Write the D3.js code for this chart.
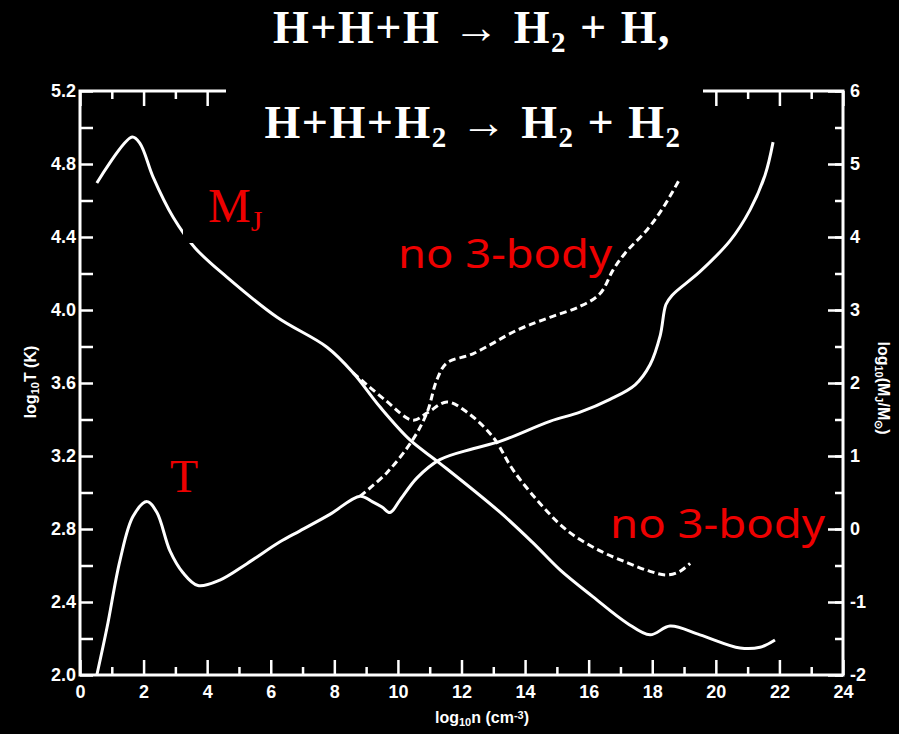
<!DOCTYPE html>
<html>
<head>
<meta charset="utf-8">
<script src="https://cdn.jsdelivr.net/npm/d3@7"></script>
<style>
  html, body { margin: 0; padding: 0; background: #000; }
  svg { display: block; }
</style>
</head>
<body>
<div id="chart"></div>
<script>
// log10 n values and curves
const tSolidN = [0.53, 0.85, 1.26, 1.67, 2.11, 2.42, 2.83, 3.24, 3.71, 4.40, 5.25, 6.29, 6.92, 7.86, 8.81, 9.19, 9.50, 9.75, 10.07, 10.60, 11.32, 12.36, 13.21, 14.78, 15.73, 16.67, 17.46, 17.93, 18.25, 18.43, 18.62, 19.50, 20.45, 21.08, 21.55, 21.80];
const tSolidT = [2.00, 2.26, 2.63, 2.87, 2.95, 2.89, 2.68, 2.56, 2.49, 2.52, 2.61, 2.73, 2.79, 2.88, 2.98, 2.95, 2.92, 2.89, 2.96, 3.08, 3.18, 3.24, 3.28, 3.39, 3.44, 3.51, 3.59, 3.70, 3.86, 4.03, 4.08, 4.21, 4.38, 4.55, 4.74, 4.92];

const tDashN = [8.81, 9.66, 10.47, 10.92, 11.23, 11.54, 12.36, 13.75, 14.78, 15.73, 16.36, 16.77, 17.14, 17.84, 18.34, 18.87];
const tDashT = [2.98, 3.11, 3.29, 3.44, 3.62, 3.71, 3.76, 3.89, 3.96, 4.02, 4.09, 4.22, 4.31, 4.44, 4.56, 4.72];

const mSolidN = [0.53, 1.64, 1.89, 2.30, 2.93, 3.62, 4.62, 6.20, 7.77, 8.59, 9.44, 10.38, 11.32, 13.21, 14.25, 15.10, 16.14, 17.21, 17.93, 18.56, 19.50, 20.76, 21.39, 21.86];
const mSolidM = [4.74, 5.37, 5.28, 4.82, 4.27, 3.85, 3.45, 2.90, 2.49, 2.14, 1.67, 1.22, 0.90, 0.23, -0.19, -0.56, -0.93, -1.29, -1.45, -1.33, -1.45, -1.63, -1.62, -1.52];

const mDashN = [8.59, 9.59, 10.47, 10.92, 11.54, 12.17, 12.99, 13.62, 14.47, 15.32, 16.36, 17.21, 17.93, 18.46, 18.87, 19.19];
const mDashM = [2.14, 1.77, 1.49, 1.59, 1.74, 1.60, 1.26, 0.81, 0.35, -0.02, -0.30, -0.46, -0.58, -0.63, -0.58, -0.47];

const nTicks = d3.range(0, 25, 1);
const tTicks = d3.range(2.0, 5.21, 0.2).map(v => +v.toFixed(1));
const mTicks = d3.range(-2, 6.01, 0.5);

const width = 899, height = 734;
const plotL = 80, plotR = 843, plotT = 91, plotB = 675;

const svg = d3.select("#chart").append("svg")
  .attr("width", width)
  .attr("height", height);

svg.append("rect").attr("width", width).attr("height", height).attr("fill", "#000");

const x = d3.scaleLinear().domain([0, 24]).range([plotL, plotR]);
const yT = d3.scaleLinear().domain([2.0, 5.2]).range([plotB, plotT]);
const yM = d3.scaleLinear().domain([-2, 6]).range([plotB, plotT]);

const tickFont = "bold 18px 'Liberation Sans', Arial, sans-serif";

function styleAxis(g) {
  g.select(".domain").remove();
  g.selectAll("line").attr("stroke", "#fff").attr("stroke-width", 2.5);
  g.selectAll("text").attr("fill", "#fff").style("font", tickFont);
}

// bottom axis: long ticks at even, short at odd
svg.append("g")
  .attr("transform", `translate(0,${plotB})`)
  .call(d3.axisBottom(x).tickValues(nTicks.filter(d => d % 2 === 0)).tickSize(-15).tickPadding(10).tickFormat(d => String(d)))
  .call(styleAxis);
svg.append("g")
  .attr("transform", `translate(0,${plotB})`)
  .call(d3.axisBottom(x).tickValues(nTicks.filter(d => d % 2 === 1)).tickSize(-8).tickFormat(""))
  .call(styleAxis);

// top axis ticks, no labels
svg.append("g")
  .attr("transform", `translate(0,${plotT})`)
  .call(d3.axisTop(x).tickValues(nTicks.filter(d => d % 2 === 0)).tickSize(-15).tickFormat(""))
  .call(styleAxis);
svg.append("g")
  .attr("transform", `translate(0,${plotT})`)
  .call(d3.axisTop(x).tickValues(nTicks.filter(d => d % 2 === 1)).tickSize(-8).tickFormat(""))
  .call(styleAxis);

// left axis log T
svg.append("g")
  .attr("transform", `translate(${plotL},0)`)
  .call(d3.axisLeft(yT).tickValues(tTicks).tickSize(-13).tickPadding(4)
    .tickFormat((d, i) => i % 2 === 0 ? d.toFixed(1) : ""))
  .call(styleAxis);

// right axis log M
svg.append("g")
  .attr("transform", `translate(${plotR},0)`)
  .call(d3.axisRight(yM).tickValues(mTicks).tickSize(-8).tickFormat(""))
  .call(styleAxis);
svg.append("g")
  .attr("transform", `translate(${plotR},0)`)
  .call(d3.axisRight(yM).tickValues(mTicks.filter(d => d % 1 === 0)).tickSize(-15).tickPadding(7).tickFormat(d => String(d)))
  .call(styleAxis);

// frame
svg.append("path")
  .attr("d", `M226,${plotT}H${plotL}V${plotB}H${plotR}V${plotT}H703`)
  .attr("fill", "none")
  .attr("stroke", "#fff")
  .attr("stroke-width", 3);

// curves
const line = (sy) => d3.line()
  .x(d => x(d[0]))
  .y(d => sy(d[1]))
  .curve(d3.curveCatmullRom.alpha(0.5));

const series = [
  { n: tSolidN, v: tSolidT, s: yT, dash: null },
  { n: tDashN, v: tDashT, s: yT, dash: "7,4" },
  { n: mSolidN, v: mSolidM, s: yM, dash: null },
  { n: mDashN, v: mDashM, s: yM, dash: "7,4" }
];

svg.selectAll("path.curve")
  .data(series)
  .enter()
  .append("path")
  .attr("class", "curve")
  .attr("d", d => line(d.s)(d.n.map((n, i) => [n, d.v[i]])))
  .attr("fill", "none")
  .attr("stroke", "#fff")
  .attr("stroke-width", 3)
  .attr("stroke-dasharray", d => d.dash);

// black boxes behind title and M_J label
svg.append("rect").attr("x", 226).attr("y", 82).attr("width", 477).attr("height", 72).attr("fill", "#000");
svg.append("rect").attr("x", 183).attr("y", 207).attr("width", 80).attr("height", 36).attr("fill", "#000");

// title
const titleFont = "'Liberation Serif', 'Times New Roman', serif";
const title = svg.append("g")
  .attr("fill", "#fff")
  .style("font-family", titleFont)
  .style("font-weight", "bold")
  .style("font-size", "46px")
  .style("letter-spacing", "1.5px")
  .attr("text-anchor", "middle");

const t1 = title.append("text").attr("x", 472).attr("y", 43);
t1.append("tspan").text("H+H+H \u2192 H");
t1.append("tspan").attr("baseline-shift", "-30%").style("font-size", "29px").text("2");
t1.append("tspan").text(" + H,");

const t2 = title.append("text").attr("x", 473).attr("y", 138);
t2.append("tspan").text("H+H+H");
t2.append("tspan").attr("baseline-shift", "-30%").style("font-size", "29px").text("2");
t2.append("tspan").text(" \u2192 H");
t2.append("tspan").attr("baseline-shift", "-30%").style("font-size", "29px").text("2");
t2.append("tspan").text(" + H");
t2.append("tspan").attr("baseline-shift", "-30%").style("font-size", "29px").text("2");

// axis titles
const labFont = "bold 16px 'Liberation Sans', Arial, sans-serif";

const xl = svg.append("text").attr("x", 482).attr("y", 723).attr("text-anchor", "middle")
  .attr("fill", "#fff").style("font", labFont);
xl.append("tspan").text("log");
xl.append("tspan").attr("baseline-shift", "-30%").style("font-size", "11px").text("10");
xl.append("tspan").text("n (cm");
xl.append("tspan").attr("baseline-shift", "40%").style("font-size", "11px").text("-3");
xl.append("tspan").text(")");

const yl = svg.append("text").attr("transform", "translate(36,382) rotate(-90)").attr("text-anchor", "middle")
  .attr("fill", "#fff").style("font", labFont);
yl.append("tspan").text("log");
yl.append("tspan").attr("baseline-shift", "-30%").style("font-size", "11px").text("10");
yl.append("tspan").text("T (K)");

const yr = svg.append("text").attr("transform", "translate(878,388) rotate(90)").attr("text-anchor", "middle")
  .attr("fill", "#fff").style("font", labFont);
yr.append("tspan").text("log");
yr.append("tspan").attr("baseline-shift", "-30%").style("font-size", "11px").text("10");
yr.append("tspan").text("(M");
yr.append("tspan").attr("baseline-shift", "-30%").style("font-size", "11px").text("J");
yr.append("tspan").text("/M");
yr.append("tspan").attr("baseline-shift", "-30%").style("font-size", "11px").text("\u2299");
yr.append("tspan").text(")");

// red annotations
const red = "#ee0000";
const mj = svg.append("text").attr("x", 208).attr("y", 222).attr("fill", red)
  .style("font-family", titleFont).style("font-size", "48px");
mj.append("tspan").text("M");
mj.append("tspan").attr("baseline-shift", "-30%").style("font-size", "30px").text("J");

svg.append("text").attr("x", 184).attr("y", 492).attr("text-anchor", "middle").attr("fill", red)
  .style("font-family", titleFont).style("font-size", "46px").text("T");

const noFont = "'Noto Sans', 'DejaVu Sans', sans-serif";
svg.append("text").attr("x", 398).attr("y", 268).attr("fill", red)
  .style("font-family", noFont).style("font-size", "40px")
  .attr("textLength", 214).attr("lengthAdjust", "spacingAndGlyphs").text("no 3-body");
svg.append("text").attr("x", 610).attr("y", 538).attr("fill", red)
  .style("font-family", noFont).style("font-size", "40px")
  .attr("textLength", 215).attr("lengthAdjust", "spacingAndGlyphs").text("no 3-body");
</script>
</body>
</html>
